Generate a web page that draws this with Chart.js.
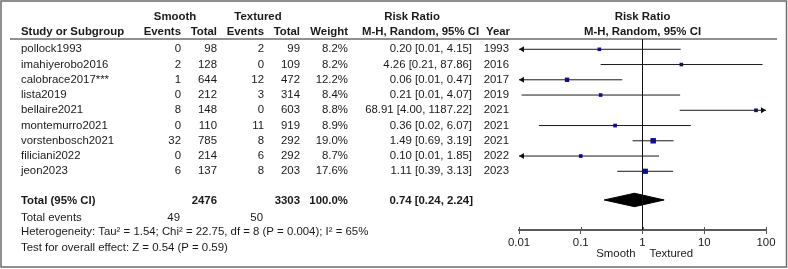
<!DOCTYPE html>
<html>
<head>
<meta charset="utf-8">
<script src="https://cdn.jsdelivr.net/npm/chart.js@4.4.0/dist/chart.umd.min.js"></script>
<style>
    body { margin: 0; background: #fff; }
    canvas { display: block; }
</style>
</head>
<body>
<canvas id="graficoBosque" width="788" height="269"></canvas>
<script>
// Datos de los estudios
const estudios = ['pollock1993', 'imahiyerobo2016', 'calobrace2017***', 'lista2019', 'bellaire2021',
    'montemurro2021', 'vorstenbosch2021', 'filiciani2022', 'jeon2023'];
const eventosLisos = [0, 2, 1, 0, 8, 0, 32, 0, 6];
const totalLisos = [98, 128, 644, 212, 148, 110, 785, 214, 137];
const eventosTexturizados = [2, 0, 12, 3, 0, 11, 8, 6, 8];
const totalTexturizados = [99, 109, 472, 314, 603, 919, 292, 292, 203];
const pesos = [8.2, 8.2, 12.2, 8.4, 8.8, 8.9, 19.0, 8.7, 17.6];
const riesgoRelativo = [0.20, 4.26, 0.06, 0.21, 68.91, 0.36, 1.49, 0.10, 1.11];
const icInferior = [0.0098, 0.21, 0.008, 0.011, 4.00, 0.021, 0.69, 0.0059, 0.39];
const icSuperior = [4.15, 87.86, 0.47, 4.07, 1187.22, 6.07, 3.19, 1.85, 3.13];
const anios = [1993, 2016, 2017, 2019, 2021, 2021, 2021, 2022, 2023];

// Totales
const totalesParticipantes = [2476, 3303];
const totalesEventos = [49, 50];
const pesoTotal = 100.0;
const rrTotal = 0.74;
const icTotal = [0.24, 2.24];
const textoHeterogeneidad = 'Heterogeneity: Tau² = 1.54; Chi² = 22.75, df = 8 (P = 0.004); I² = 65%';
const textoEfecto = 'Test for overall effect: Z = 0.54 (P = 0.59)';

// Eje
const marcasEje = [0.01, 0.1, 1, 10, 100];
const etiquetasEje = ['0.01', '0.1', '1', '10', '100'];
const etiquetasFavor = ['Smooth', 'Textured'];

// Disposicion de filas (en unidades del eje y)
const filaMin = -0.675;
const filaMax = 11.85;
const filaTotal = 9.88;
const fuente = '"Liberation Sans", Arial, sans-serif';
const tamFuente = 11.4;
const colorTexto = '#1a1a1a';

const ic = v => v.toFixed(2);

// Plugin para la tabla de texto, flechas y marco
const pluginTabla = {
    id: 'tabla',
    afterDraw(chart) {
        const ctx = chart.ctx;
        const ejeX = chart.scales.x;
        const ejeY = chart.scales.y;
        const fila = i => ejeY.getPixelForValue(i);

        const texto = (t, x, y, align, negrita) => {
            ctx.font = (negrita ? 'bold ' : '') + tamFuente + 'px ' + fuente;
            ctx.fillStyle = colorTexto;
            ctx.textAlign = align;
            ctx.textBaseline = 'middle';
            ctx.fillText(t, x, y);
        };

        ctx.save();

        // Encabezados
        const y1 = 16.7, y2 = 32.3;
        texto('Smooth', 175, y1, 'center', true);
        texto('Textured', 258, y1, 'center', true);
        texto('Risk Ratio', 412, y1, 'center', true);
        texto('Risk Ratio', (ejeX.left + ejeX.right) / 2, y1, 'center', true);
        texto('Study or Subgroup', 21, y2, 'left', true);
        texto('Events', 181, y2, 'right', true);
        texto('Total', 217, y2, 'right', true);
        texto('Events', 264, y2, 'right', true);
        texto('Total', 300, y2, 'right', true);
        texto('Weight', 348, y2, 'right', true);
        texto('M-H, Random, 95% CI', 362, y2, 'left', true);
        texto('Year', 510, y2, 'right', true);
        texto('M-H, Random, 95% CI', (ejeX.left + ejeX.right) / 2, y2, 'center', true);

        // Linea bajo el encabezado
        ctx.strokeStyle = '#222';
        ctx.lineWidth = 1.2;
        ctx.beginPath();
        ctx.moveTo(10, ejeY.top);
        ctx.lineTo(777, ejeY.top);
        ctx.stroke();

        // Filas de estudios
        estudios.forEach((nombre, i) => {
            const y = fila(i);
            texto(nombre, 21, y, 'left', false);
            texto(String(eventosLisos[i]), 181, y, 'right', false);
            texto(String(totalLisos[i]), 217, y, 'right', false);
            texto(String(eventosTexturizados[i]), 264, y, 'right', false);
            texto(String(totalTexturizados[i]), 300, y, 'right', false);
            texto(pesos[i].toFixed(1) + '%', 348, y, 'right', false);
            texto(ic(riesgoRelativo[i]) + ' [' + ic(icInferior[i]) + ', ' + ic(icSuperior[i]) + ']', 472, y, 'right', false);
            texto(String(anios[i]), 509, y, 'right', false);

            // Flechas cuando el intervalo sale del eje
            ctx.fillStyle = '#111';
            if (icInferior[i] < ejeX.min) {
                const px = ejeX.getPixelForValue(ejeX.min);
                ctx.beginPath();
                ctx.moveTo(px, y);
                ctx.lineTo(px + 5, y - 3);
                ctx.lineTo(px + 5, y + 3);
                ctx.closePath();
                ctx.fill();
            }
            if (icSuperior[i] > ejeX.max) {
                const px = ejeX.getPixelForValue(ejeX.max);
                ctx.beginPath();
                ctx.moveTo(px, y);
                ctx.lineTo(px - 5, y - 3);
                ctx.lineTo(px - 5, y + 3);
                ctx.closePath();
                ctx.fill();
            }
        });

        // Fila total
        const yT = fila(filaTotal) + 1.3;
        texto('Total (95% CI)', 21, yT, 'left', true);
        texto(String(totalesParticipantes[0]), 217, yT, 'right', true);
        texto(String(totalesParticipantes[1]), 300, yT, 'right', true);
        texto(pesoTotal.toFixed(1) + '%', 348, yT, 'right', true);
        texto(ic(rrTotal) + ' [' + ic(icTotal[0]) + ', ' + ic(icTotal[1]) + ']', 473, yT, 'right', true);

        // Pie
        texto('Total events', 21, 217.7, 'left', false);
        texto(String(totalesEventos[0]), 180, 217.7, 'right', false);
        texto(String(totalesEventos[1]), 263, 217.7, 'right', false);
        texto(textoHeterogeneidad, 21, 232.3, 'left', false);
        texto(textoEfecto, 21, 247.7, 'left', false);

        // Marcas superiores del eje
        ctx.strokeStyle = '#555';
        ctx.lineWidth = 1;
        marcasEje.forEach(v => {
            const px = Math.round(ejeX.getPixelForValue(v)) + 0.5;
            ctx.beginPath();
            ctx.moveTo(px, ejeX.top - 3);
            ctx.lineTo(px, ejeX.top);
            ctx.stroke();
        });

        // Etiquetas a favor
        const x1 = ejeX.getPixelForValue(1);
        texto(etiquetasFavor[0], x1 - 7, 253.5, 'right', false);
        texto(etiquetasFavor[1], x1 + 7, 253.5, 'left', false);

        // Marco
        ctx.strokeStyle = '#6b6b6b';
        ctx.lineWidth = 1.5;
        ctx.strokeRect(1, 1, 785.5, 266);

        ctx.restore();
    }
};

// Conjuntos de datos
const conjuntos = [];

// Lineas de intervalo de confianza
estudios.forEach((nombre, i) => {
    conjuntos.push({
        label: nombre,
        data: [{ x: icInferior[i], y: i }, { x: icSuperior[i], y: i }],
        showLine: true,
        borderColor: '#1a1a1a',
        borderWidth: 1,
        pointRadius: 0
    });
});

// Cuadrados del riesgo relativo (area segun el peso)
conjuntos.push({
    label: 'RR',
    data: riesgoRelativo.map((v, i) => ({ x: v, y: i })),
    pointStyle: 'rect',
    pointRadius: pesos.map(w => 1.25 * Math.sqrt(w) / 1.414),
    backgroundColor: '#0c0ca8',
    borderWidth: 0
});

// Linea de no efecto
conjuntos.push({
    label: 'nulo',
    data: [{ x: 1, y: filaMin }, { x: 1, y: filaMax }],
    showLine: true,
    borderColor: '#111',
    borderWidth: 1,
    pointRadius: 0
});

// Rombo del efecto total
const altoRombo = 0.44;
conjuntos.push({
    label: 'total',
    data: [
        { x: icTotal[0], y: filaTotal },
        { x: rrTotal, y: filaTotal - altoRombo },
        { x: icTotal[1], y: filaTotal },
        { x: rrTotal, y: filaTotal + altoRombo },
        { x: icTotal[0], y: filaTotal }
    ],
    showLine: true,
    fill: 'shape',
    backgroundColor: '#000',
    borderColor: '#000',
    borderWidth: 1,
    pointRadius: 0
});

const ctxBosque = document.getElementById('graficoBosque').getContext('2d');
new Chart(ctxBosque, {
    type: 'scatter',
    data: { datasets: conjuntos },
    options: {
        responsive: false,
        animation: false,
        layout: { padding: { left: 519, right: 22, top: 39, bottom: 0 } },
        plugins: {
            legend: { display: false },
            tooltip: { enabled: false }
        },
        scales: {
            x: {
                type: 'logarithmic',
                min: 0.01,
                max: 100,
                position: 'bottom',
                afterBuildTicks: (eje) => {
                    eje.ticks = marcasEje.map(v => ({ value: v }));
                },
                afterFit: (eje) => { eje.height = 39; },
                grid: {
                    drawOnChartArea: false,
                    drawTicks: true,
                    tickLength: 4,
                    color: '#555',
                    lineWidth: 1
                },
                border: { display: true, color: '#5a5a5a', width: 2 },
                ticks: {
                    autoSkip: false,
                    maxRotation: 0,
                    padding: 2,
                    color: colorTexto,
                    font: { family: fuente, size: tamFuente },
                    callback: (v) => {
                        const k = marcasEje.indexOf(v);
                        return k >= 0 ? etiquetasEje[k] : '';
                    }
                }
            },
            y: {
                type: 'linear',
                display: false,
                reverse: true,
                min: filaMin,
                max: filaMax
            }
        }
    },
    plugins: [pluginTabla]
});
</script>
</body>
</html>
